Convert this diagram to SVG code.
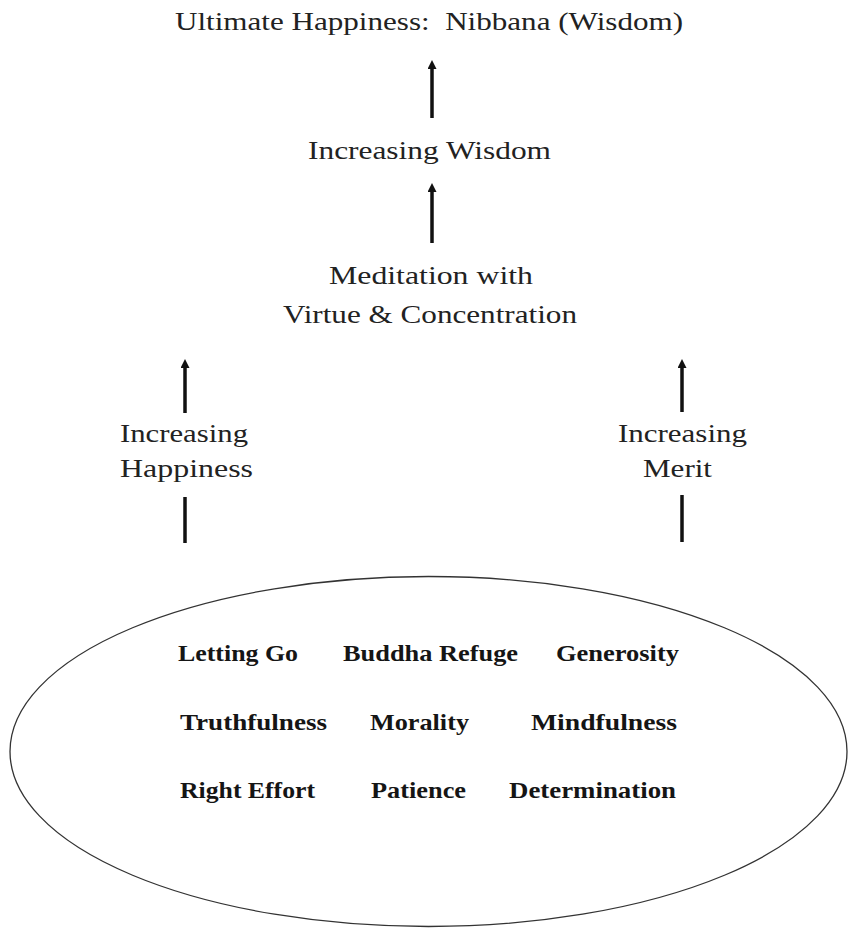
<svg xmlns="http://www.w3.org/2000/svg" width="850" height="928" viewBox="0 0 850 928">
<style>
.t{font-family:"Liberation Serif",serif;font-size:26px;fill:#222}
.b{font-family:"Liberation Serif",serif;font-size:24px;font-weight:bold;fill:#151515}
.ln{stroke:#111;stroke-width:3.5;fill:none}
</style>
<defs>
<marker id="ah" markerWidth="9" markerHeight="9" refX="0" refY="4.5" orient="auto" markerUnits="userSpaceOnUse">
<path d="M0,0 L9,4.5 L0,9 z" fill="#111"/>
</marker>
</defs>
<rect width="850" height="928" fill="#fff"/>
<g id="connectors">
<line class="ln" x1="432" y1="118" x2="432" y2="69" marker-end="url(#ah)"/>
<line class="ln" x1="432" y1="243" x2="432" y2="192" marker-end="url(#ah)"/>
<line class="ln" x1="185" y1="413" x2="185" y2="368" marker-end="url(#ah)"/>
<line class="ln" x1="185" y1="497" x2="185" y2="543"/>
<line class="ln" x1="682" y1="412" x2="682" y2="368" marker-end="url(#ah)"/>
<line class="ln" x1="682" y1="495" x2="682" y2="542"/>
</g>
<g id="n-ultimate"><text class="t" x="175" y="30" textLength="508" lengthAdjust="spacingAndGlyphs" xml:space="preserve">Ultimate Happiness:  Nibbana (Wisdom)</text></g>
<g id="n-wisdom"><text class="t" x="308" y="159" textLength="243" lengthAdjust="spacingAndGlyphs">Increasing Wisdom</text></g>
<g id="n-meditation"><text class="t" x="329" y="284" textLength="204" lengthAdjust="spacingAndGlyphs">Meditation with</text><text class="t" x="283" y="323" textLength="294" lengthAdjust="spacingAndGlyphs">Virtue &amp; Concentration</text></g>
<g id="n-happiness"><text class="t" x="120" y="442" textLength="128" lengthAdjust="spacingAndGlyphs">Increasing</text><text class="t" x="120" y="477" textLength="133" lengthAdjust="spacingAndGlyphs">Happiness</text></g>
<g id="n-merit"><text class="t" x="618" y="442" textLength="129" lengthAdjust="spacingAndGlyphs">Increasing</text><text class="t" x="643" y="477" textLength="69" lengthAdjust="spacingAndGlyphs">Merit</text></g>
<g id="n-virtues">
<ellipse cx="428.5" cy="751.5" rx="418.5" ry="175" fill="none" stroke="#333" stroke-width="1.3"/>
<text class="b" x="178" y="661" textLength="120" lengthAdjust="spacingAndGlyphs">Letting Go</text>
<text class="b" x="343" y="661" textLength="175" lengthAdjust="spacingAndGlyphs">Buddha Refuge</text>
<text class="b" x="556" y="661" textLength="123" lengthAdjust="spacingAndGlyphs">Generosity</text>
<text class="b" x="180" y="730" textLength="147" lengthAdjust="spacingAndGlyphs">Truthfulness</text>
<text class="b" x="370" y="730" textLength="99" lengthAdjust="spacingAndGlyphs">Morality</text>
<text class="b" x="531" y="730" textLength="146" lengthAdjust="spacingAndGlyphs">Mindfulness</text>
<text class="b" x="180" y="798" textLength="135" lengthAdjust="spacingAndGlyphs">Right Effort</text>
<text class="b" x="371" y="798" textLength="95" lengthAdjust="spacingAndGlyphs">Patience</text>
<text class="b" x="509" y="798" textLength="167" lengthAdjust="spacingAndGlyphs">Determination</text>
</g>
</svg>
